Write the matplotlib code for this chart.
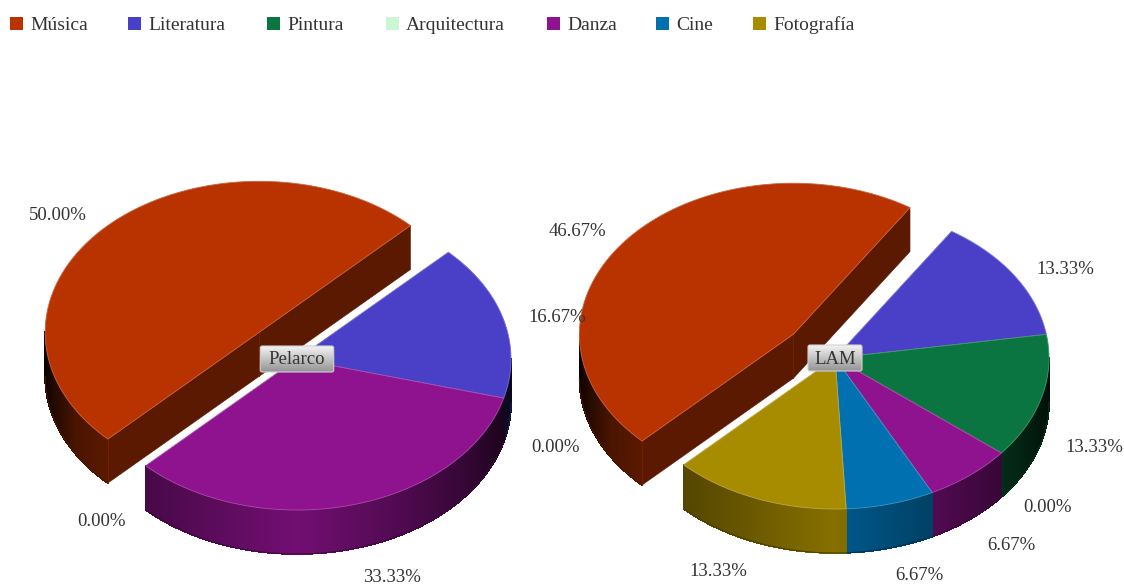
import numpy as np
import matplotlib
matplotlib.use('Agg')
import matplotlib.pyplot as plt
from matplotlib.collections import PolyCollection
from matplotlib.patches import FancyBboxPatch, Polygon, Rectangle

plt.rcParams['font.family'] = ['Liberation Serif', 'DejaVu Serif']

categories = ['Música', 'Literatura', 'Pintura', 'Arquitectura', 'Danza', 'Cine', 'Fotografía']
colors = ['#b83300', '#4a40c8', '#0a7540', '#ccf7d2', '#8f128f', '#0070b0', '#a88c00']

pelarco = [50.00, 16.67, 0.00, 0.00, 33.33, 0.00, 0.00]
lam = [46.67, 13.33, 13.33, 0.00, 6.67, 6.67, 13.33]

# layout, in pixels of the 1124x584 picture
legend_box_x = [10, 128, 267, 386, 547, 656, 753]
pelarco_label_xy = [(58, 216), (557, 317), (555, 447), (392, 577), (101, 521)]
lam_label_xy = [(577, 231), (1065, 269), (1094, 448), (1048, 508), (1011, 545), (919, 575), (718, 571)]
RX, RY, DEPTH = 214, 151, 44
START = 225
EXPLODE = 0.25

fig = plt.figure(figsize=(11.24, 5.84), dpi=100)
ax = fig.add_axes([0, 0, 1, 1])
ax.set_xlim(0, 1124)
ax.set_ylim(584, 0)
ax.axis('off')


def rim(cx, cy, deg):
    t = np.radians(deg)
    return cx + RX * np.cos(t), cy - RY * np.sin(t)


def shade(u):
    # side wall brightness against position across the pie
    return np.interp(u, [-1, -0.95, -0.85, -0.7, 0, 0.45, 0.78, 0.93, 1],
                     [0.04, 0.2, 0.4, 0.5, 0.8, 0.58, 0.38, 0.24, 0.14])


def tint(col, f):
    return np.array(matplotlib.colors.to_rgb(col)) * f


def lighten(col, f=0.35):
    c = np.array(matplotlib.colors.to_rgb(col))
    return c + (1 - c) * f


def draw_wall(cx, cy, hi, lo, col):
    for k in [-1, 0, 1]:
        a = max(lo, 180 + 360 * k)
        b = min(hi, 360 + 360 * k)
        if b <= a:
            continue
        ang = np.linspace(a, b, int((b - a) * 3) + 2)
        quads = []
        cols = []
        for a0, a1 in zip(ang[:-1], ang[1:]):
            x0, y0 = rim(cx, cy, a0)
            x1, y1 = rim(cx, cy, a1)
            quads.append([(x0, y0), (x1, y1), (x1, y1 + DEPTH), (x0, y0 + DEPTH)])
            cols.append(tint(col, shade(((x0 + x1) / 2 - cx) / RX)))
        ax.add_collection(PolyCollection(quads, facecolors=cols, edgecolors=cols, linewidths=0.6,
                                         antialiaseds=False, zorder=2))
        # soft lower border
        xs, ys = rim(cx, cy, ang)
        ax.plot(xs, ys + DEPTH, color=tint(col, 0.45), lw=0.8, zorder=2)


def draw_slice(cx, cy, hi, lo, col, exploded):
    if exploded:
        mid = np.radians((hi + lo) / 2)
        cx = cx + EXPLODE * RX * np.cos(mid)
        cy = cy - EXPLODE * RY * np.sin(mid)
        dark = tint(col, 0.49)
        for a in [lo, hi]:
            x, y = rim(cx, cy, a)
            ax.add_patch(Polygon([(cx, cy), (x, y), (x, y + DEPTH), (cx, cy + DEPTH)],
                                 fc=dark, ec=dark, lw=0.4, zorder=2))
    draw_wall(cx, cy, hi, lo, col)
    if exploded:
        x, y = rim(cx, cy, hi)
        ax.plot([x, x], [y, y + DEPTH], color=tint(col, 0.62), lw=0.7, zorder=3)
        ax.plot([cx, cx], [cy, cy + DEPTH], color=tint(col, 0.62), lw=0.7, zorder=3)
    ang = np.linspace(lo, hi, int(hi - lo) * 2 + 2)
    xs, ys = rim(cx, cy, ang)
    pts = [(cx, cy)] + list(zip(xs, ys))
    ax.add_patch(Polygon(pts, closed=True, fc=col, ec=lighten(col, 0.25), lw=0.6, zorder=4))


def draw_pie(values, cx, cy, name, label_xy):
    # slices run clockwise from START, only the first one is pulled out
    a = START
    spans = []
    for v, c in zip(values, colors):
        spans.append((a, a - v * 3.6, c, v))
        a = a - v * 3.6
    for i, (hi, lo, c, v) in enumerate(spans):
        if v > 0 and i > 0:
            draw_slice(cx, cy, hi, lo, c, False)
    draw_slice(cx, cy, spans[0][0], spans[0][1], spans[0][2], True)

    # zero slices at the same angle share one label
    seen = []
    n = 0
    for hi, lo, c, v in spans:
        key = (round((hi + lo) / 2 % 360, 1), v)
        if key in seen:
            continue
        seen.append(key)
        if n < len(label_xy):
            ax.text(label_xy[n][0], label_xy[n][1], '%.2f%%' % v, fontsize=13.5, color='#333333',
                    ha='center', va='center', zorder=6)
        n += 1

    # name box in the middle
    w = 8.2 * len(name) + 16
    if len(name) < 5:
        w = 54
    h = 26
    box = FancyBboxPatch((cx - w / 2, cy - h / 2), w, h, boxstyle='round,pad=0,rounding_size=2',
                         fc='none', ec='#d0d0d0', lw=0.8, zorder=8)
    ax.add_patch(box)
    grad = np.linspace(0.95, 0.58, 40).reshape(-1, 1)
    im = ax.imshow(grad, extent=[cx - w / 2, cx + w / 2, cy + h / 2, cy - h / 2], cmap='gray',
                   vmin=0, vmax=1, aspect='auto', zorder=7)
    im.set_clip_path(box)
    ax.text(cx, cy + 1, name, fontsize=13.5, color='#333333', ha='center', va='center', zorder=9)


draw_pie(pelarco, 297, 359, 'Pelarco', pelarco_label_xy)
draw_pie(lam, 835, 358, 'LAM', lam_label_xy)
ax.set_xlim(0, 1124)
ax.set_ylim(584, 0)

for x, name, c in zip(legend_box_x, categories, colors):
    ax.add_patch(Rectangle((x, 17), 13, 13, fc=c, ec='none', zorder=5))
    ax.text(x + 20, 25.5, name, fontsize=14, color='#333333', ha='left', va='center', zorder=5)

fig.savefig('out.png', dpi=100)
